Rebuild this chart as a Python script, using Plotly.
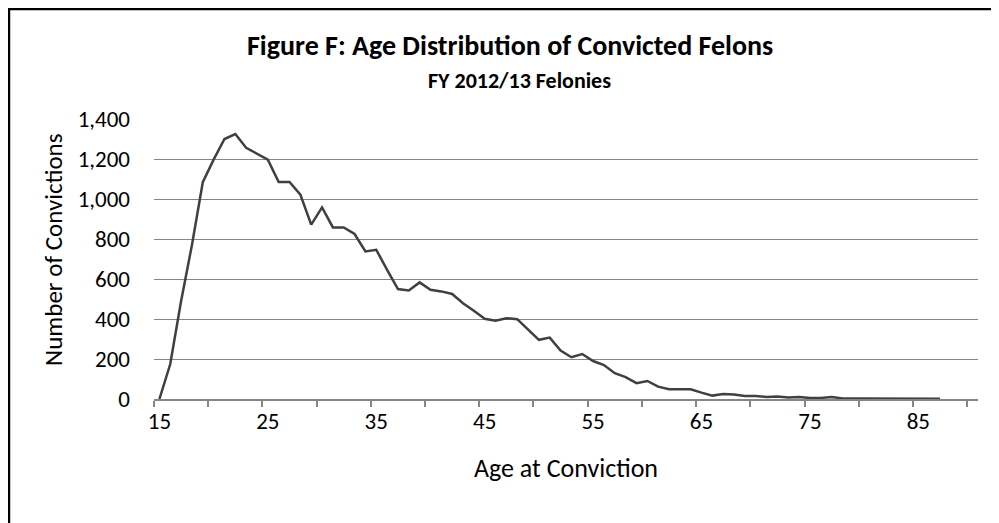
import plotly.graph_objects as go

# ---- data ----
ages = list(range(15, 88))
convictions = [
    0, 175, 490, 770, 1084, 1197, 1300, 1325, 1256, 1225,   # 15-24
    1197, 1085, 1085, 1022, 872, 958, 858, 858, 825, 738,   # 25-34
    746, 646, 550, 543, 583, 546, 538, 525, 479, 441,       # 35-44
    401, 391, 404, 399, 346, 296, 307, 242, 209, 225,       # 45-54
    190, 170, 129, 109, 79, 90, 62, 49, 49, 49,             # 55-64
    32, 17, 25, 23, 15, 15, 10, 12, 8, 10,                  # 65-74
    5, 5, 10, 3, 3, 3, 2, 2, 2, 1,                          # 75-84
    1, 1, 1                                                 # 85-87
]
axis_first_age = 15
axis_last_age = 90
label_ages = [15, 25, 35, 45, 55, 65, 75, 85]
y_ticks = [0, 200, 400, 600, 800, 1000, 1200, 1400]

title_line1 = "Figure F: Age Distribution of Convicted Felons"
title_line2 = "FY 2012/13 Felonies"
x_title = "Age at Conviction"
y_title = "Number of Convictions"

FONT = "Carlito, Calibri, Lato, sans-serif"
GRID = "#868686"

boundaries = [a - 0.5 for a in range(axis_first_age, axis_last_age + 1, 5)]

fig = go.Figure()
fig.add_trace(go.Scatter(
    x=ages, y=convictions, mode="lines",
    line=dict(color="#404040", width=2.5),
    hoverinfo="x+y", showlegend=False,
))

fig.update_layout(
    width=999, height=523,
    margin=dict(l=146, r=29, t=111, b=132),
    paper_bgcolor="white", plot_bgcolor="white",
    font=dict(family=FONT, color="black"),
    showlegend=False,
)

fig.update_xaxes(
    range=[axis_first_age - 0.5, axis_last_age + 0.5],
    tickmode="array", tickvals=label_ages, ticktext=[str(a) for a in label_ages],
    ticks="", showgrid=False, zeroline=False,
    showline=True, linecolor=GRID, linewidth=1.5,
    tickfont=dict(size=23, family=FONT),
    ticklabelstandoff=1,
    minor=dict(tickmode="array", tickvals=boundaries, ticks="outside",
               ticklen=6, tickcolor=GRID, tickwidth=1.5, showgrid=False),
    title=dict(text=x_title, font=dict(size=26, family=FONT), standoff=24),
    automargin=False,
)

fig.update_yaxes(
    range=[0, 1400], tickmode="array", tickvals=y_ticks,
    tickformat=",", showgrid=True, gridcolor=GRID, gridwidth=1,
    zeroline=False, showline=False, ticks="",
    tickfont=dict(size=23, family=FONT),
    ticklabelstandoff=23,
    automargin=False,
)

# y-axis title (placed slightly above the plot centre, as in the original)
fig.add_annotation(text=y_title, xref="paper", yref="paper",
                   x=-0.1226, y=0.5357, xanchor="center", yanchor="middle",
                   textangle=-90, showarrow=False,
                   font=dict(size=25, family=FONT, color="black"))

# two-line bold title
fig.add_annotation(text="<b>" + title_line1 + "</b>", xref="paper", yref="paper",
                   x=0.432, y=1.264, xanchor="center", yanchor="middle",
                   showarrow=False, font=dict(size=28, family=FONT, color="black"))
fig.add_annotation(text="<b>" + title_line2 + "</b>", xref="paper", yref="paper",
                   x=0.443, y=1.136, xanchor="center", yanchor="middle",
                   showarrow=False, font=dict(size=22, family=FONT, color="black"))

# chart border
fig.add_shape(type="rect", xref="paper", yref="paper",
              x0=-0.1760, y0=-0.6, x1=1.1, y1=1.3925,
              line=dict(color="black", width=2.5), fillcolor="rgba(0,0,0,0)",
              layer="below")

fig.write_html("out.html")
